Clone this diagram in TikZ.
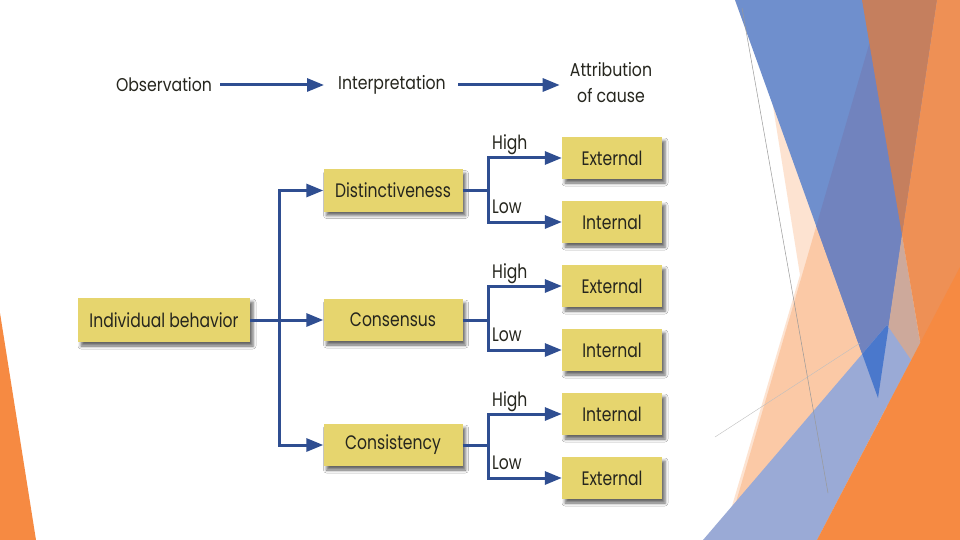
\documentclass[tikz,border=0pt]{standalone}
\usepackage{fontspec}
\setmainfont{Poppins}[FakeStretch=0.85]
\newfontfamily\boxfont{Poppins}[FakeStretch=0.8]
\usetikzlibrary{arrows.meta,shadows.blur}
\definecolor{boxy}{HTML}{E6D56E}
\definecolor{arrb}{HTML}{2F4E91}
\definecolor{txt}{HTML}{26261E}
\definecolor{peachL}{HTML}{FDE3D1}
\definecolor{peachM}{HTML}{FBC9A6}
\definecolor{blueA}{HTML}{6F8FCD}
\definecolor{blueD}{HTML}{7183BE}
\definecolor{blueB}{HTML}{4A78CC}
\definecolor{blueL}{HTML}{9AAAD6}
\definecolor{brownA}{HTML}{C57F5E}
\definecolor{orangeA}{HTML}{EE9055}
\definecolor{orangeB}{HTML}{F68A42}
\definecolor{tanA}{HTML}{CDA99B}
\begin{document}
\begin{tikzpicture}[x=1pt,y=-1pt,
  box/.style={fill=boxy, text=txt, inner sep=0pt,
    blur shadow={shadow xshift=3pt, shadow yshift=-4pt, shadow blur radius=3pt, shadow opacity=60},
    font=\boxfont\fontsize{19.5}{19.5}\selectfont},
  midbox/.style={box, minimum width=139pt, minimum height=42pt},
  resbox/.style={box, minimum width=100pt, minimum height=42pt},
  hdr/.style={text=txt, inner sep=0pt, font=\fontsize{18.5}{26}\selectfont},
  lbl/.style={text=txt, inner sep=0pt, font=\boxfont\fontsize{19.5}{19.5}\selectfont},
  link/.style={draw=arrb, line width=3pt},
  arr/.style={draw=arrb, line width=3pt, -{Triangle[length=17pt,width=13pt]}},
  biarr/.style={draw=arrb, line width=3pt, {Triangle[length=17pt,width=13pt]}-{Triangle[length=17pt,width=13pt]}}
]
\useasboundingbox (0,0) rectangle (960,540);
\fill[white] (0,0) rectangle (960,540);

% ---- decorative background ----
\fill[peachL] (735,0) -- (772,100) -- (800,275) -- (722,540) -- (960,540) -- (960,0) -- cycle;
\fill[peachM] (882,0) -- (960,0) -- (960,540) -- (725,540) -- cycle;
\fill[blueA] (735,0) -- (937,0) -- (878,398) -- cycle;
\begin{scope}
  \clip (735,0) -- (937,0) -- (878,398) -- cycle;
  \fill[blueD] (882,0) -- (960,0) -- (960,540) -- (725,540) -- cycle;
\end{scope}
\fill[brownA] (862,0) -- (937,0) -- (902,235) -- cycle;
\fill[tanA] (902,235) -- (878,398) -- (940,460) -- cycle;
\fill[orangeA] (937,0) -- (960,0) -- (960,540) -- (954,540) -- (902,235) -- cycle;
\fill[blueL] (703,540) -- (887,325) -- (911,360) -- (817,540) -- cycle;
\begin{scope}
  \clip (703,540) -- (887,325) -- (911,360) -- (817,540) -- cycle;
  \fill[blueB] (735,0) -- (937,0) -- (878,398) -- cycle;
\end{scope}
\fill[orangeB] (817,540) -- (960,267) -- (960,540) -- cycle;
\draw[black!40, line width=0.5pt] (742,8) -- (828,493);
\draw[black!25, line width=0.4pt] (715,437) -- (860,343);
\fill[orangeB] (0,313) -- (36,540) -- (0,540) -- cycle;

% ---- header ----
\node[hdr] (obs) at (164,85) {Observation};
\node[hdr] (intp) at (392,85) {Interpretation};
\node[hdr, align=center] (att) at (611,83) {Attribution\\of cause};
\draw[arr, shorten <=8pt, shorten >=14pt] (obs.east) -- (intp.west);
\draw[arr, shorten <=12pt, shorten >=10pt] (intp.east) -- (intp.east -| att.west);

% ---- boxes ----
\node[box, minimum width=172pt, minimum height=44pt] (ib) at (164,320) {Individual behavior};
\node[midbox] (dist) at (393,190.5) {Distinctiveness};
\node[midbox] (cons) at (393,320) {Consensus};
\node[midbox] (cst) at (393,445) {Consistency};

\node[resbox] (e1) at (612,158) {External};
\node[resbox] (i1) at (612,222) {Internal};
\node[resbox] (e2) at (612,286) {External};
\node[resbox] (i2) at (612,350) {Internal};
\node[resbox] (i3) at (612,414) {Internal};
\node[resbox] (e3) at (612,478) {External};

% ---- left connectors ----
\coordinate (vt) at (279,190.5);
\coordinate (vb) at (279,445);
\draw[arr] (ib.east) -- (cons.west);
\draw[biarr] (dist.west) -- (vt) -- (vb) -- (cst.west);

% ---- right branches ----
\coordinate (bx1) at (488,190.5);
\coordinate (bx2) at (488,320);
\coordinate (bx3) at (488,445);
\draw[link] (dist.east) -- (bx1);
\draw[link] (cons.east) -- (bx2);
\draw[link] (cst.east) -- (bx3);
\draw[biarr] (e1.west) -| (bx1) |- (i1.west);
\draw[biarr] (e2.west) -| (bx2) |- (i2.west);
\draw[biarr] (i3.west) -| (bx3) |- (e3.west);

\node[lbl, anchor=base west] (h1) at (492,150) {High};
\node[lbl, anchor=base west] (l1) at (492,213) {Low};
\node[lbl, anchor=base west] (h2) at (492,278) {High};
\node[lbl, anchor=base west] (l2) at (492,341) {Low};
\node[lbl, anchor=base west] (h3) at (492,406) {High};
\node[lbl, anchor=base west] (l3) at (492,469) {Low};
\end{tikzpicture}
\end{document}
